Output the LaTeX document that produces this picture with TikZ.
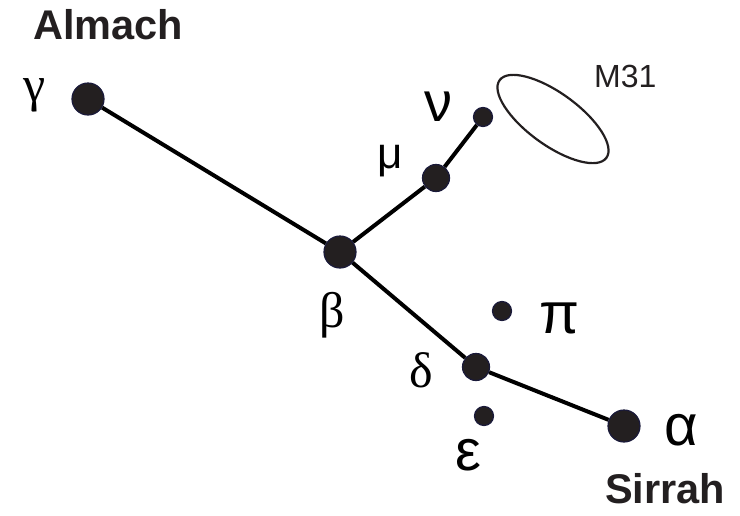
\documentclass[tikz,border=0pt]{standalone}
\usepackage{fontspec}
\setsansfont{Liberation Sans}
\newfontfamily\greekserif{Liberation Serif}
\usepackage{tikz}
\usetikzlibrary{shapes.geometric}
\definecolor{skink}{HTML}{231F20}
\definecolor{skrim}{HTML}{1A1A3A}

\begin{document}
\begin{tikzpicture}[x=1pt,y=-1pt,
  starBig/.style={circle,draw=skrim,fill=skink,line width=1.2pt,inner sep=0pt,minimum size=32pt},
  starMid/.style={starBig,minimum size=27pt},
  starSmall/.style={starBig,minimum size=19pt},
  figure/.style={black,line width=4pt},
  greekSerif/.style={inner sep=0pt,font=\greekserif\fontsize{50}{50}\selectfont},
  greekSans/.style={inner sep=0pt,font=\sffamily\fontsize{58}{58}\selectfont},
  starName/.style={inner sep=0pt,font=\sffamily\bfseries\fontsize{41.5}{41.5}\selectfont,text=skink}
]
\useasboundingbox (0,0) rectangle (740,515);
% stars
\node[starBig] (gam) at (88,99) {};
\node[starBig] (bet) at (340,252) {};
\node[starMid] (mu) at (436,178) {};
\node[starSmall] (nu) at (483,117) {};
\node[starMid] (del) at (476,367) {};
\node[starBig] (alp) at (624,426) {};
\node[starSmall] (pi) at (502,311) {};
\node[starSmall] (eps) at (484,416) {};
% figure lines
\draw[figure] (gam) -- (bet) -- (mu) -- (nu);
\draw[figure] (bet) -- (del) -- (alp);
% galaxy
\node[ellipse,draw=skink,line width=2.2pt,rotate=-36,
  minimum width=132pt,minimum height=52pt] (m31) at (553,119) {};
\node[anchor=base west,inner sep=0pt,font=\sffamily\fontsize{32}{32}\selectfont,text=skink]
  (m31label) at (594,87) {M31};
% letters
\node[greekSerif] (gamLabel) at (35,95) {γ};
\node[greekSerif] (betLabel) at (332,315) {β};
\node[greekSerif] (delLabel) at (421,370) {δ};
\node[greekSans,font=\sffamily\fontsize{44}{44}\selectfont] (muLabel) at (390,161) {μ};
\node[greekSans,font=\sffamily\fontsize{56}{56}\selectfont] (nuLabel) at (438,107) {ν};
\node[greekSans] (piLabel) at (560,318) {π};
\node[greekSans] (alpLabel) at (681,430) {α};
\node[greekSans] (epsLabel) at (468,455) {ε};
% names
\node[starName,anchor=base west] (almach) at (33,39) {Almach};
\node[starName,anchor=base west] (sirrah) at (605,503) {Sirrah};
\end{tikzpicture}
\end{document}
